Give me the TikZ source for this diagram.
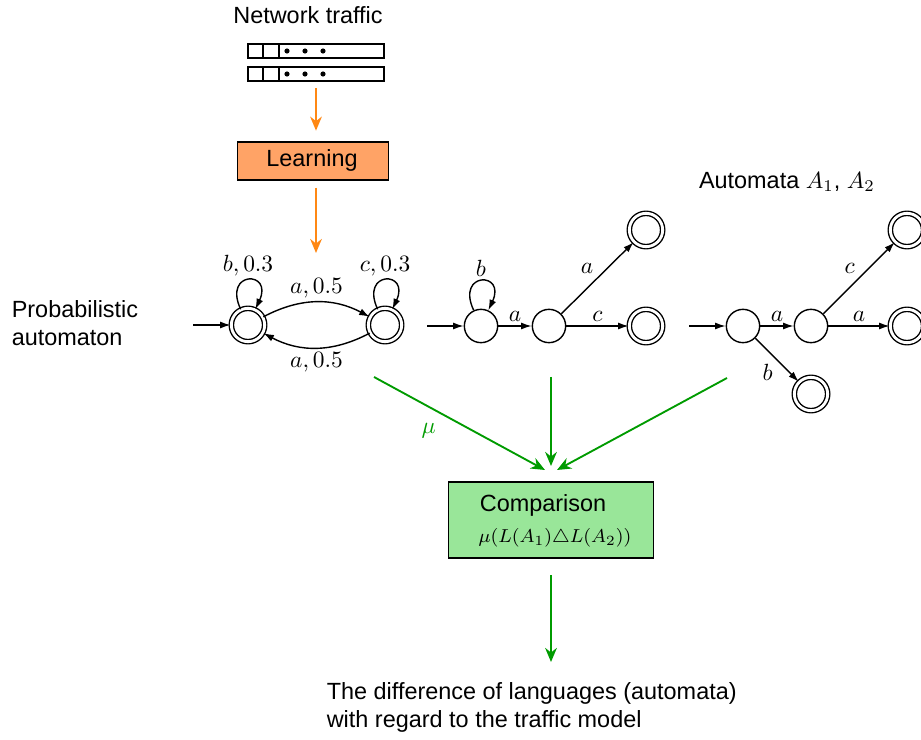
\documentclass[tikz,border=0pt]{standalone}
\usepackage{fontspec}
\setmainfont{Liberation Sans}
\usepackage{amsmath}
\usepackage{amssymb}
\usetikzlibrary{arrows.meta}

\definecolor{learnorange}{RGB}{255,136,20}
\definecolor{learnfill}{RGB}{255,163,102}
\definecolor{cmpgreen}{RGB}{0,155,0}
\definecolor{cmpfill}{RGB}{153,230,153}

\begin{document}
\begin{tikzpicture}[
    x=0.015cm, y=-0.015cm,
    tnode/.style={draw=none, inner sep=1pt},
    lbl/.style={draw=none, inner sep=1.5pt},
    st/.style={circle, draw, semithick, minimum size=0.5cm, inner sep=0pt},
    acc/.style={st, double, double distance=1.2pt},
    tarrow/.style={-{Latex[length=4.5pt,width=3pt]}, semithick},
    flow/.style={-{Stealth[length=6pt,width=5pt]}, thick},
    stagebox/.style={draw, semithick, inner sep=0pt}
]
\useasboundingbox (0,0) rectangle (921,740);
%% Input: network traffic
\node[tnode] (traffic) at (308,15) {Network traffic};
% --- two packet strips ---
\foreach \y in {44,67} {
    \draw[semithick] (248,\y) rectangle (384,\y+14);
    \draw[semithick] (263,\y) -- (263,\y+14);
    \draw[semithick] (279,\y) -- (279,\y+14);
    \foreach \x in {287,305,323} {
        \fill (\x,\y+7) circle (1.1pt);
    }
}
\coordinate (trafficout) at (316,88);
% --- Learning stage ---
\node[stagebox, fill=learnfill, minimum width=2.27cm, minimum height=0.57cm] (learn) at (313,161) {};
\node[tnode] (learntxt) at (312,160) {Learning};
\coordinate (pain) at (316,253);
\draw[flow, learnorange, shorten >=1pt] (trafficout) -- (316,133);
\draw[flow, learnorange, shorten <=3pt] (learn.south -| pain) -- (pain);
%% Probabilistic automaton
\node[tnode, align=left, anchor=north west] (palabel) at (9,298) {Probabilistic\\automaton};
\node[acc] (q0) at (248,325) {};
\node[acc] (q1) at (385,325) {};
\coordinate (q0in) at (193,325);
\draw[tarrow] (q0in) -- (q0);
\draw[tarrow] (q0) to[out=115,in=65,looseness=7.5] node[lbl, above] {$b,0.3$} (q0);
\draw[tarrow] (q1) to[out=115,in=65,looseness=7.5] node[lbl, above] {$c,0.3$} (q1);
\draw[tarrow] (q0) to[bend left=28] node[lbl, above] {$a,0.5$} (q1);
\draw[tarrow] (q1) to[bend left=28] node[lbl, below] {$a,0.5$} (q0);
%% Automaton A1
\node[st]  (p0) at (481,326) {};
\node[st]  (p1) at (549,326) {};
\node[acc] (p2) at (646,326) {};
\node[acc] (p3) at (646,230) {};
\coordinate (p0in) at (427,326);
\draw[tarrow] (p0in) -- (p0);
\draw[tarrow] (p0) to[out=115,in=65,looseness=7.5] node[lbl, above] {$b$} (p0);
\draw[tarrow] (p0) -- node[lbl, above] {$a$} (p1);
\draw[tarrow] (p1) -- node[lbl, above] {$c$} (p2);
\draw[tarrow] (p1) -- node[lbl, above left] {$a$} (p3);
%% Automaton A2
\node[tnode] (autlabel) at (787,182) {Automata $A_1$, $A_2$};
\node[st]  (r0) at (743,326) {};
\node[st]  (r1) at (811,326) {};
\node[acc] (r2) at (907,326) {};
\node[acc] (r3) at (907,230) {};
\node[acc] (r4) at (811,394) {};
\coordinate (r0in) at (689,326);
\draw[tarrow] (r0in) -- (r0);
\draw[tarrow] (r0) -- node[lbl, above] {$a$} (r1);
\draw[tarrow] (r1) -- node[lbl, above] {$a$} (r2);
\draw[tarrow] (r1) -- node[lbl, above left] {$c$} (r3);
\draw[tarrow] (r0) -- node[lbl, below left] {$b$} (r4);
%% Comparison stage
\node[stagebox, fill=cmpfill, minimum width=3.07cm, minimum height=1.14cm] (cmp) at (551,520) {};
\node[tnode] (cmptxt) at (543,505) {Comparison};
\node[tnode, font=\fontsize{8.5}{10}\selectfont] (cmpmath) at (555,538) {$\mu(L(A_1)\triangle L(A_2))$};
\coordinate (paout) at (374,377);
\coordinate (a1out) at (551,377);
\coordinate (a2out) at (727,378);
\draw[flow, cmpgreen] (paout) -- node[lbl, pos=0.32, below=5pt, text=cmpgreen] {$\mu$} (545,470);
\draw[flow, cmpgreen] (a1out) -- (551,466);
\draw[flow, cmpgreen] (a2out) -- (557,470);
%% Result
\node[tnode, align=left, anchor=north west] (result) at (324,680)
    {The difference of languages (automata)\\with regard to the traffic model};
\draw[flow, cmpgreen, shorten <=7pt] (cmp.south) -- (cmp.south |- 0,662);
\end{tikzpicture}
\end{document}
